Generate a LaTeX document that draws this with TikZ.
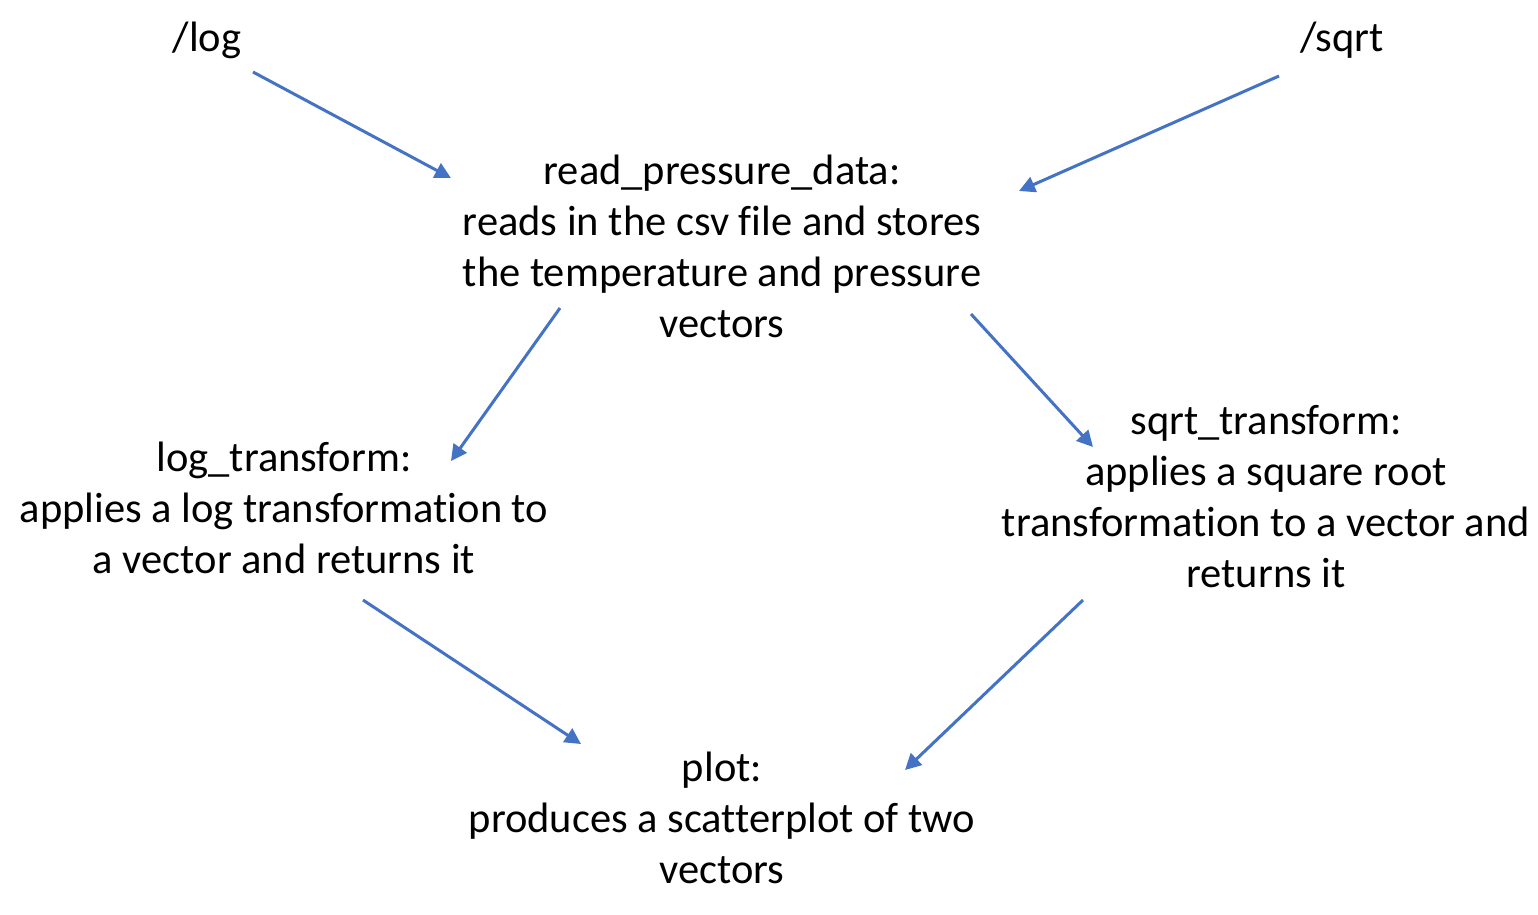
\documentclass[tikz,border=0pt]{standalone}
\usepackage{fontspec}
\setmainfont{Carlito}[Ligatures=NoCommon]
\usetikzlibrary{arrows.meta}
\definecolor{arrowblue}{HTML}{4472C4}
\tikzset{
  lbl/.style={align=center, inner sep=0pt, font=\fontsize{42.5}{51}\selectfont, text=black},
  conn/.style={draw=arrowblue, line width=3pt, -{Triangle[length=16pt,width=16pt]}}
}
\begin{document}
\begin{tikzpicture}[x=1pt,y=-1pt]
\useasboundingbox (0,0) rectangle (1538,914);
\node[lbl] (logroute) at (207,40) {/log};
\node[lbl] (sqrtroute) at (1342,40) {/sqrt};
\node[lbl] (read) at (722,246) {read\_pressure\_data:\\reads in the csv file and stores\\the temperature and pressure\\vectors};
\node[lbl] (logt) at (284,508) {log\_transform:\\applies a log transformation to\\a vector and returns it};
\node[lbl] (sqrtt) at (1266,497) {sqrt\_transform:\\applies a square root\\transformation to a vector and\\returns it};
\node[lbl] (plot) at (722,818) {plot:\\produces a scatterplot of two\\vectors};
\coordinate (a1s) at (253,72);  \coordinate (a1e) at (451,178);
\coordinate (a2s) at (1279,76); \coordinate (a2e) at (1019,191);
\coordinate (a3s) at (560,308); \coordinate (a3e) at (451,461);
\coordinate (a4s) at (971,314); \coordinate (a4e) at (1093,447);
\coordinate (a5s) at (363,600); \coordinate (a5e) at (581,744);
\coordinate (a6s) at (1083,600); \coordinate (a6e) at (905,770);
\draw[conn] (a1s) -- (a1e);
\draw[conn] (a2s) -- (a2e);
\draw[conn] (a3s) -- (a3e);
\draw[conn] (a4s) -- (a4e);
\draw[conn] (a5s) -- (a5e);
\draw[conn] (a6s) -- (a6e);
\end{tikzpicture}
\end{document}
